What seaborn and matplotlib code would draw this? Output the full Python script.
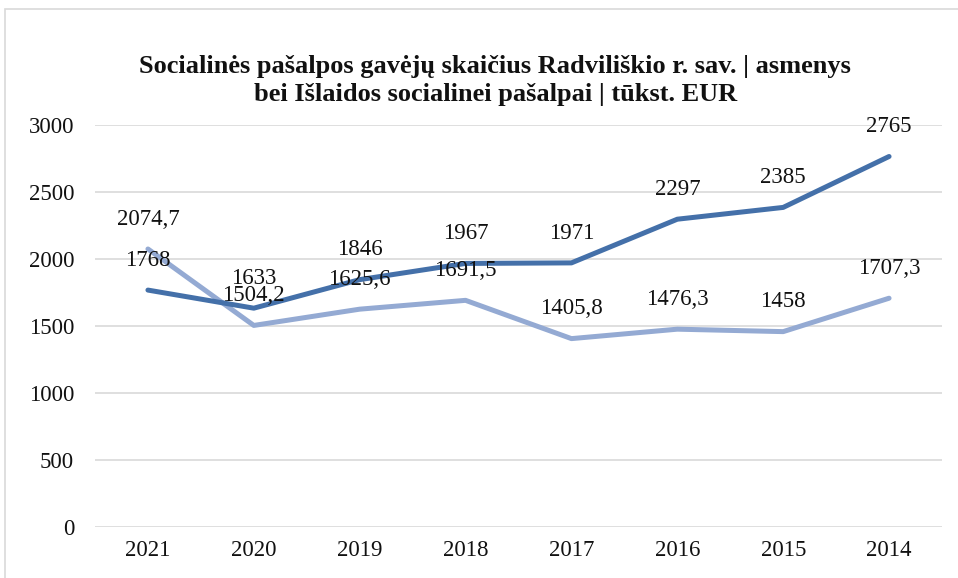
import matplotlib

matplotlib.use("Agg")
import matplotlib.pyplot as plt
import pandas as pd
import seaborn as sns
from matplotlib.patches import Rectangle

# data
years = ["2021", "2020", "2019", "2018", "2017", "2016", "2015", "2014"]
recipients = [1768, 1633, 1846, 1967, 1971, 2297, 2385, 2765]
spending = [2074.7, 1504.2, 1625.6, 1691.5, 1405.8, 1476.3, 1458, 1707.3]
series_names = ["Gavėjų skaičius | asmenys", "Išlaidos | tūkst. EUR"]
title = ("Socialinės pašalpos gavėjų skaičius Radviliškio r. sav. | asmenys\n"
         "bei Išlaidos socialinei pašalpai | tūkst. EUR")

df = pd.concat([
    pd.DataFrame({"year": years, "value": recipients, "series": series_names[0]}),
    pd.DataFrame({"year": years, "value": spending, "series": series_names[1]}),
])

sns.set_theme(style="white")
plt.rcParams["font.family"] = ["Liberation Serif", "DejaVu Serif"]

colors = {series_names[0]: "#4470a9", series_names[1]: "#94aad3"}

fig = plt.figure(figsize=(9.58, 5.78), dpi=100)
ax = fig.add_axes([95 / 958, 51 / 578, 847 / 958, 402 / 578])

sns.lineplot(data=df, x="year", y="value", hue="series", palette=colors,
             linewidth=3.6, ax=ax, legend=False, sort=False)
# keep the dark line on top
for ln, z in zip(ax.get_lines(), [3, 2]):
    ln.set_zorder(z)
    ln.set_solid_capstyle("round")


def fmt(v):
    if float(v).is_integer():
        return f"{int(v)}"
    return f"{v:.1f}".replace(".", ",")


for vals in (recipients, spending):
    for i, v in enumerate(vals):
        ax.annotate(fmt(v), (i, v), xytext=(0, 21.5), textcoords="offset points",
                    ha="center", va="center", fontsize=16.5, color="#111111",
                    zorder=5)

ax.set_ylim(0, 3000)
ax.set_yticks(range(0, 3001, 500))
ax.set_xlim(-0.5, len(years) - 0.5)
ax.yaxis.grid(True, color="#d9d9d9", linewidth=1.2)
ax.set_axisbelow(True)
for s in ax.spines.values():
    s.set_visible(False)
ax.tick_params(axis="both", length=0, labelsize=16.5, colors="#111111")
ax.tick_params(axis="y", pad=15)
ax.tick_params(axis="x", pad=9)
ax.set_xlabel("")
ax.set_ylabel("")

fig.text(0.517, 0.86, title, ha="center", va="center", fontsize=19,
         fontweight="bold", linespacing=1.27, color="#111111")

# chart-area border (cropped at right/bottom in the reference)
fig.patches.append(Rectangle((5 / 958, -0.1), 1.2, 1.1 - 9 / 578,
                             transform=fig.transFigure, fill=False,
                             edgecolor="#d9d9d9", linewidth=1.2))

fig.savefig("out.png", dpi=100)
plt.close(fig)
